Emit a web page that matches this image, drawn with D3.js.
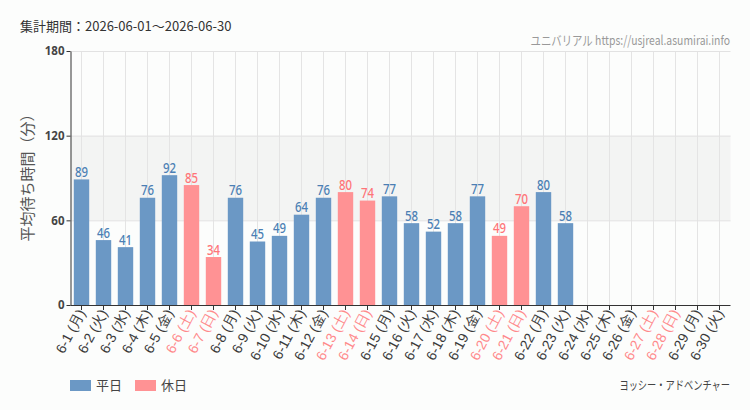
<!DOCTYPE html>
<html>
<head>
<meta charset="utf-8">
<script src="https://cdn.jsdelivr.net/npm/d3@7"></script>
<style>
  body { margin: 0; background: #fcfdfc; }
  svg { display: block; font-family: "Noto Sans CJK JP", sans-serif; }
</style>
</head>
<body>
<div id="chart"></div>
<script>
// data
const days = ["6-1", "6-2", "6-3", "6-4", "6-5", "6-6", "6-7", "6-8", "6-9", "6-10",
    "6-11", "6-12", "6-13", "6-14", "6-15", "6-16", "6-17", "6-18", "6-19", "6-20",
    "6-21", "6-22", "6-23", "6-24", "6-25", "6-26", "6-27", "6-28", "6-29", "6-30"];
const weekdays = ["月", "火", "水", "木", "金", "土", "日", "月", "火", "水",
    "木", "金", "土", "日", "月", "火", "水", "木", "金", "土",
    "日", "月", "火", "水", "木", "金", "土", "日", "月", "火"];
const waits = [89, 46, 41, 76, 92, 85, 34, 76, 45, 49,
    64, 76, 80, 74, 77, 58, 52, 58, 77, 49,
    70, 80, 58, null, null, null, null, null, null, null];
const holidays = ["6-6", "6-7", "6-13", "6-14", "6-20", "6-21", "6-27", "6-28"];
const yTicks = [0, 60, 120, 180];

const width = 750;
const height = 410;
const plotLeft = 70.5, plotRight = 730.5, plotTop = 51, plotBottom = 305;

const blue = "#6b98c5", pink = "#ff9294";
const blueText = "#4b7fb4", pinkText = "#ff7478";

const svg = d3.select("#chart")
    .append("svg")
    .attr("width", width)
    .attr("height", height);

const x = d3.scaleBand()
    .domain(days)
    .range([plotLeft, plotRight])
    .paddingInner(0.3)
    .paddingOuter(0.15);

const y = d3.scaleLinear()
    .domain([0, 180])
    .range([plotBottom, plotTop]);

// shaded band 60-120
svg.append("rect")
    .attr("x", plotLeft)
    .attr("y", y(120))
    .attr("width", plotRight - plotLeft)
    .attr("height", y(60) - y(120))
    .attr("fill", "#f3f4f3");

// vertical grid lines through the category centres
svg.append("g")
    .selectAll("line")
    .data(days)
    .join("line")
    .attr("x1", d => x(d) + x.bandwidth() / 2)
    .attr("x2", d => x(d) + x.bandwidth() / 2)
    .attr("y1", plotTop)
    .attr("y2", plotBottom)
    .attr("stroke", "#e4e4e4");

// horizontal grid lines
svg.append("g")
    .selectAll("line")
    .data(yTicks.slice(1))
    .join("line")
    .attr("x1", plotLeft)
    .attr("x2", plotRight)
    .attr("y1", d => y(d) + 0.5)
    .attr("y2", d => y(d) + 0.5)
    .attr("stroke", "#e2e2e2");

// bars
const rows = days.map((d, i) => ({ day: d, wd: weekdays[i], v: waits[i], hol: holidays.includes(d) }));
const data = rows.filter(r => r.v !== null);

svg.append("g")
    .selectAll("rect")
    .data(data)
    .join("rect")
    .attr("x", d => x(d.day))
    .attr("y", d => y(d.v))
    .attr("width", x.bandwidth())
    .attr("height", d => y(0) - y(d.v))
    .attr("fill", d => d.hol ? pink : blue);

// value labels, squeezed to look condensed
svg.append("g")
    .selectAll("text")
    .data(data)
    .join("text")
    .attr("transform", d => `translate(${x(d.day) + x.bandwidth() / 2}, ${y(d.v) - 2.5}) scale(0.76, 1)`)
    .attr("text-anchor", "middle")
    .attr("font-family", "'Noto Sans', sans-serif")
    .attr("font-size", "15px")
    .attr("font-weight", "500")
    .attr("fill", d => d.hol ? pinkText : blueText)
    .text(d => d.v);

// y axis
const yAxis = svg.append("g")
    .attr("transform", `translate(${plotLeft}, 0)`)
    .call(d3.axisLeft(y).tickValues(yTicks).tickSize(4).tickSizeOuter(0));
yAxis.select(".domain").attr("stroke", "#333");
yAxis.selectAll(".tick line").attr("stroke", "#333");
yAxis.selectAll("text")
    .attr("font-family", "'Noto Sans', sans-serif")
    .attr("font-size", "11.5px")
    .attr("font-weight", "bold")
    .attr("fill", "#444")
    .attr("x", -6);

// x axis
const xAxis = svg.append("g")
    .attr("transform", `translate(0, ${plotBottom})`)
    .call(d3.axisBottom(x).tickSize(5).tickSizeOuter(0));
xAxis.select(".domain").attr("stroke", "#333").attr("d", `M${plotLeft},0.5H${plotRight}`);
xAxis.selectAll(".tick line").attr("stroke", "#333");
xAxis.selectAll(".tick text")
    .attr("font-size", "14px")
    .attr("fill", (d, i) => rows[i].hol ? "#ff8a8c" : "#3a3a3a")
    .attr("text-anchor", "end")
    .attr("dx", "0.3em")
    .attr("dy", "0.2em")
    .attr("transform", "translate(0, 10) rotate(-62)")
    .attr("y", 0)
    .text((d, i) => `${d} (${rows[i].wd})`);

// y axis title
svg.append("text")
    .attr("transform", `translate(33, ${(plotTop + plotBottom) / 2 - 4}) rotate(-90)`)
    .attr("text-anchor", "middle")
    .attr("font-size", "15px")
    .attr("fill", "#555")
    .text("平均待ち時間（分）");

// header texts
svg.append("text")
    .attr("x", 20)
    .attr("y", 31)
    .attr("font-size", "13px")
    .attr("fill", "#333")
    .text("集計期間：2026-06-01～2026-06-30");

svg.append("text")
    .attr("transform", "translate(730, 45) scale(0.8, 1)")
    .attr("text-anchor", "end")
    .attr("font-size", "13px")
    .attr("fill", "#999")
    .text("ユニバリアル  https://usjreal.asumirai.info");

// legend
const legend = [["平日", blue], ["休日", pink]];
legend.forEach(function (l, i) {
    svg.append("rect")
        .attr("x", 70 + i * 65)
        .attr("y", 380)
        .attr("width", 21)
        .attr("height", 11)
        .attr("fill", l[1]);
    svg.append("text")
        .attr("x", 96 + i * 65)
        .attr("y", 390)
        .attr("font-size", "13px")
        .attr("fill", "#444")
        .text(l[0]);
});

svg.append("text")
    .attr("transform", "translate(730, 390) scale(0.77, 1)")
    .attr("text-anchor", "end")
    .attr("font-size", "12px")
    .attr("fill", "#444")
    .text("ヨッシー・アドベンチャー");
</script>
</body>
</html>
